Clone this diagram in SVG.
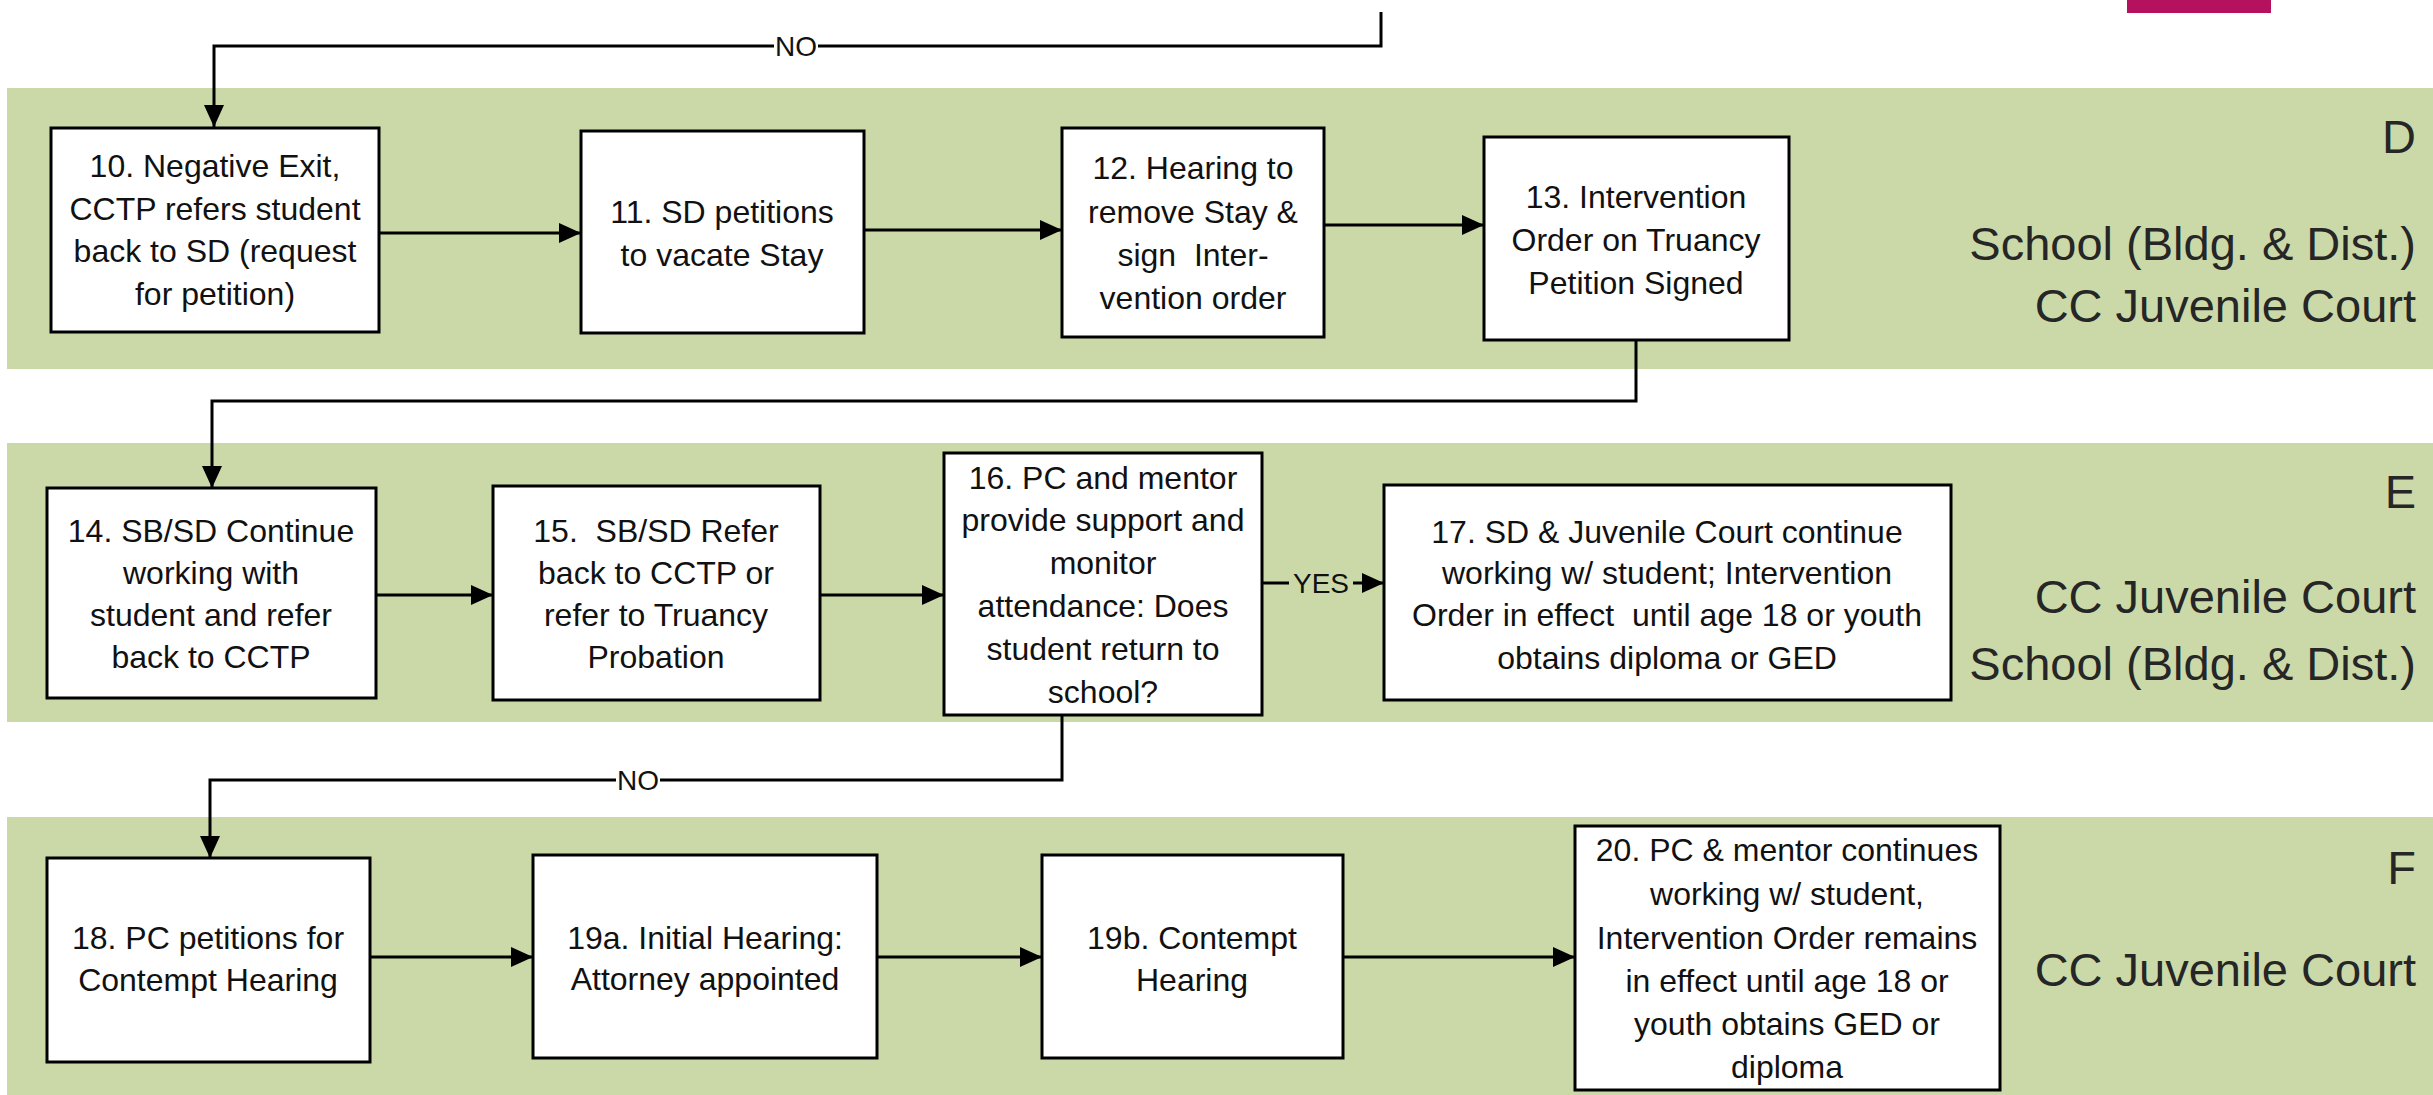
<svg xmlns="http://www.w3.org/2000/svg" width="2433" height="1095" viewBox="0 0 2433 1095">
<style>
.band{fill:#cbd9a9}
.box{fill:#fff;stroke:#000;stroke-width:3}
.t{font-family:"Liberation Sans",Arial,sans-serif;font-size:32px;fill:#111;text-anchor:middle;white-space:pre}
.side{font-family:"Liberation Sans",Arial,sans-serif;font-size:47px;fill:#262626;text-anchor:end}
.lbl{font-family:"Liberation Sans",Arial,sans-serif;font-size:28px;fill:#111;text-anchor:middle}
.c{fill:none;stroke:#000;stroke-width:3}
</style>
<defs>
<marker id="ah" viewBox="0 0 22 20" refX="22" refY="10" markerWidth="22" markerHeight="20" markerUnits="userSpaceOnUse" orient="auto">
<path d="M0,0 L22,10 L0,20 z" fill="#000"/>
</marker>
</defs>
<rect width="2433" height="1095" fill="#fff"/>
<rect x="2127" y="0" width="144" height="13" fill="#b5115f"/>
<g id="bands">
<rect class="band" x="7" y="88" width="2426" height="281"/>
<rect class="band" x="7" y="443" width="2426" height="279"/>
<rect class="band" x="7" y="817" width="2426" height="278"/>
</g>
<g id="lane-labels">
<text class="side" x="2416" y="153">D</text>
<text class="side" x="2416" y="260">School (Bldg. &amp; Dist.)</text>
<text class="side" x="2416" y="322">CC Juvenile Court</text>
<text class="side" x="2416" y="508">E</text>
<text class="side" x="2416" y="613">CC Juvenile Court</text>
<text class="side" x="2416" y="680">School (Bldg. &amp; Dist.)</text>
<text class="side" x="2416" y="884">F</text>
<text class="side" x="2416" y="986">CC Juvenile Court</text>
</g>
<g id="connectors">
<path class="c" d="M1381,12 V46 H214 V127" marker-end="url(#ah)"/>
<rect x="774" y="32" width="44" height="28" fill="#fff"/>
<text class="lbl" x="796" y="56">NO</text>
<path class="c" d="M379,233 H581" marker-end="url(#ah)"/>
<path class="c" d="M864,230 H1062" marker-end="url(#ah)"/>
<path class="c" d="M1324,225 H1484" marker-end="url(#ah)"/>
<path class="c" d="M1636,340 V401 H212 V488" marker-end="url(#ah)"/>
<path class="c" d="M376,595 H493" marker-end="url(#ah)"/>
<path class="c" d="M820,595 H944" marker-end="url(#ah)"/>
<path class="c" d="M1262,583 H1384" marker-end="url(#ah)"/>
<rect x="1289" y="569" width="64" height="28" fill="#cbd9a9"/>
<text class="lbl" x="1321" y="593">YES</text>
<path class="c" d="M1062,715 V780 H210 V858" marker-end="url(#ah)"/>
<rect x="616" y="766" width="44" height="28" fill="#fff"/>
<text class="lbl" x="638" y="790">NO</text>
<path class="c" d="M370,957 H533" marker-end="url(#ah)"/>
<path class="c" d="M877,957 H1042" marker-end="url(#ah)"/>
<path class="c" d="M1343,957 H1575" marker-end="url(#ah)"/>
</g>
<g id="n10">
<rect class="box" x="51" y="128" width="328" height="204"/>
<text class="t"><tspan x="215" y="177">10. Negative Exit,</tspan><tspan x="215" y="220">CCTP refers student</tspan><tspan x="215" y="262">back to SD (request</tspan><tspan x="215" y="305">for petition)</tspan></text>
</g>
<g id="n11">
<rect class="box" x="581" y="131" width="283" height="202"/>
<text class="t"><tspan x="722" y="223">11. SD petitions</tspan><tspan x="722" y="266">to vacate Stay</tspan></text>
</g>
<g id="n12">
<rect class="box" x="1062" y="128" width="262" height="209"/>
<text class="t"><tspan x="1193" y="179">12. Hearing to</tspan><tspan x="1193" y="223">remove Stay &amp;</tspan><tspan x="1193" y="266">sign  Inter-</tspan><tspan x="1193" y="309">vention order</tspan></text>
</g>
<g id="n13">
<rect class="box" x="1484" y="137" width="305" height="203"/>
<text class="t"><tspan x="1636" y="208">13. Intervention</tspan><tspan x="1636" y="251">Order on Truancy</tspan><tspan x="1636" y="294">Petition Signed</tspan></text>
</g>
<g id="n14">
<rect class="box" x="47" y="488" width="329" height="210"/>
<text class="t"><tspan x="211" y="542">14. SB/SD Continue</tspan><tspan x="211" y="584">working with</tspan><tspan x="211" y="626">student and refer</tspan><tspan x="211" y="668">back to CCTP</tspan></text>
</g>
<g id="n15">
<rect class="box" x="493" y="486" width="327" height="214"/>
<text class="t"><tspan x="656" y="542">15.  SB/SD Refer</tspan><tspan x="656" y="584">back to CCTP or</tspan><tspan x="656" y="626">refer to Truancy</tspan><tspan x="656" y="668">Probation</tspan></text>
</g>
<g id="n16">
<rect class="box" x="944" y="453" width="318" height="262"/>
<text class="t"><tspan x="1103" y="489">16. PC and mentor</tspan><tspan x="1103" y="531">provide support and</tspan><tspan x="1103" y="574">monitor</tspan><tspan x="1103" y="617">attendance: Does</tspan><tspan x="1103" y="660">student return to</tspan><tspan x="1103" y="703">school?</tspan></text>
</g>
<g id="n17">
<rect class="box" x="1384" y="485" width="567" height="215"/>
<text class="t"><tspan x="1667" y="543">17. SD &amp; Juvenile Court continue</tspan><tspan x="1667" y="584">working w/ student; Intervention</tspan><tspan x="1667" y="626">Order in effect  until age 18 or youth</tspan><tspan x="1667" y="669">obtains diploma or GED</tspan></text>
</g>
<g id="n18">
<rect class="box" x="47" y="858" width="323" height="204"/>
<text class="t"><tspan x="208" y="949">18. PC petitions for</tspan><tspan x="208" y="991">Contempt Hearing</tspan></text>
</g>
<g id="n19a">
<rect class="box" x="533" y="855" width="344" height="203"/>
<text class="t"><tspan x="705" y="949">19a. Initial Hearing:</tspan><tspan x="705" y="990">Attorney appointed</tspan></text>
</g>
<g id="n19b">
<rect class="box" x="1042" y="855" width="301" height="203"/>
<text class="t"><tspan x="1192" y="949">19b. Contempt</tspan><tspan x="1192" y="991">Hearing</tspan></text>
</g>
<g id="n20">
<rect class="box" x="1575" y="826" width="425" height="264"/>
<text class="t"><tspan x="1787" y="861">20. PC &amp; mentor continues</tspan><tspan x="1787" y="905">working w/ student,</tspan><tspan x="1787" y="949">Intervention Order remains</tspan><tspan x="1787" y="992">in effect until age 18 or</tspan><tspan x="1787" y="1035">youth obtains GED or</tspan><tspan x="1787" y="1078">diploma</tspan></text>
</g>
</svg>
